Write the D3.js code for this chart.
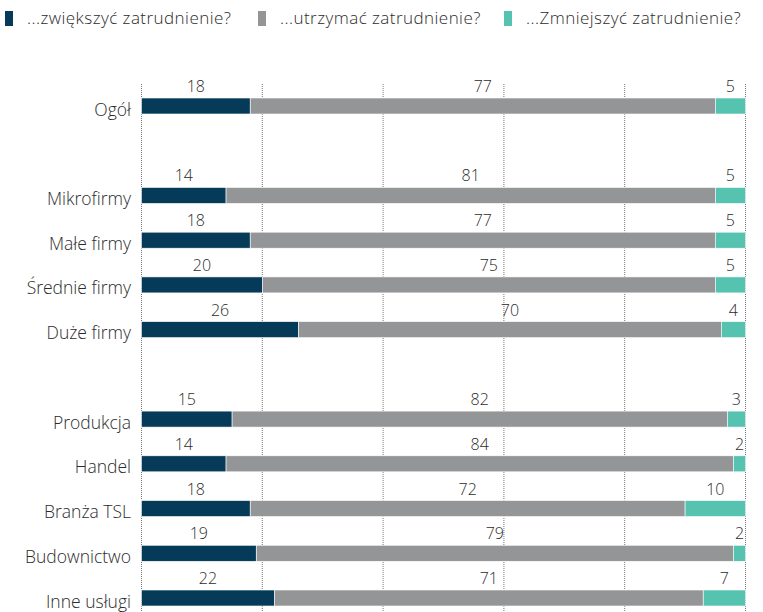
<!DOCTYPE html>
<html>
<head>
<meta charset="utf-8">
<script src="https://cdn.jsdelivr.net/npm/d3@7"></script>
<style>
  body { margin: 0; background: #fff; }
  text { font-family: "Open Sans", "Liberation Sans", sans-serif; }
</style>
</head>
<body>
<div id="chart"></div>
<script>
// categories (null = empty gap row)
const categories = ['Ogół', null, 'Mikrofirmy', 'Małe firmy', 'Średnie firmy', 'Duże firmy', null,
    'Produkcja', 'Handel', 'Branża TSL', 'Budownictwo', 'Inne usługi'];
const increase = [18, null, 14, 18, 20, 26, null, 15, 14, 18, 19, 22];
const keep = [77, null, 81, 77, 75, 70, null, 82, 84, 72, 79, 71];
const decrease = [5, null, 5, 5, 5, 4, null, 3, 2, 10, 2, 7];
const seriesNames = ['...zwiększyć zatrudnienie?', '...utrzymać zatrudnienie?', '...Zmniejszyć zatrudnienie?'];
const colors = ['#053b58', '#939597', '#56c2b0'];
const gridTicks = [0, 20, 40, 60, 80, 100];

const width = 763, height = 612;
const svg = d3.select('#chart').append('svg')
    .attr('width', width)
    .attr('height', height);

const x = d3.scaleLinear().domain([0, 100]).range([141.5, 745.5]);
const slots = categories.map((c, i) => i);
const y = d3.scalePoint().domain(slots).range([106, 598]);
const barH = 16;

// grid
svg.append('g').selectAll('line')
    .data(gridTicks)
    .join('line')
    .attr('x1', d => x(d)).attr('x2', d => x(d))
    .attr('y1', 84).attr('y2', height)
    .attr('stroke', '#777')
    .attr('stroke-width', 1)
    .attr('stroke-dasharray', '1,1');

// rows
const rows = categories.map((c, i) => ({ name: c, i, vals: [increase[i], keep[i], decrease[i]] }))
    .filter(d => d.name !== null);

const rowG = svg.append('g').selectAll('g')
    .data(rows)
    .join('g')
    .attr('transform', d => `translate(0,${y(d.i)})`);

rowG.append('text')
    .attr('x', 131)
    .attr('y', 9.5)
    .attr('text-anchor', 'end')
    .attr('font-size', 17.5)
    .attr('font-weight', 350)
    .attr('fill', '#2b2b2b')
    .text(d => d.name);

rowG.each(function(d) {
    const g = d3.select(this);
    let acc = 0;
    d.vals.forEach((v, k) => {
        const x0 = x(acc), x1 = x(acc + v);
        acc += v;
        g.append('rect')
            .attr('x', x0).attr('y', -barH / 2)
            .attr('width', x1 - x0).attr('height', barH)
            .attr('fill', colors[k])
            .attr('stroke', '#fff')
            .attr('stroke-width', 0.6);
        let cx = (x0 + x1) / 2;
        const half = String(v).length * 4.5;
        if (cx + half > x(100) - 1) cx = x(100) - 1 - half;
        g.append('text')
            .attr('x', cx)
            .attr('y', -barH / 2 - 6)
            .attr('text-anchor', 'middle')
            .attr('font-size', 16)
            .attr('font-weight', 300)
            .attr('fill', '#2b2b2b')
            .text(v);
    });
});

// legend
const legendX = [5, 258, 504];
const lg = svg.append('g').selectAll('g')
    .data(seriesNames)
    .join('g')
    .attr('transform', (d, i) => `translate(${legendX[i]},0)`);
lg.append('rect')
    .attr('x', 0).attr('y', 11)
    .attr('width', 8).attr('height', 15)
    .attr('fill', (d, i) => colors[i]);
lg.append('text')
    .attr('x', 22).attr('y', 24)
    .attr('font-size', 17)
    .attr('font-weight', 350)
    .attr('letter-spacing', 0.45)
    .attr('fill', '#2b2b2b')
    .text(d => d);
</script>
</body>
</html>
